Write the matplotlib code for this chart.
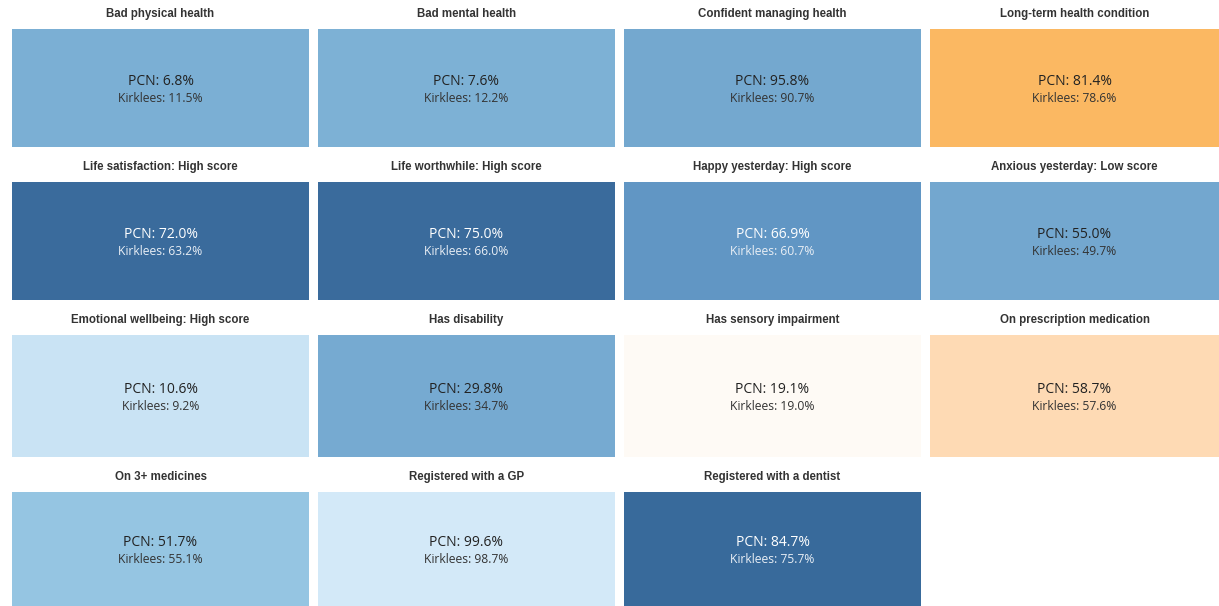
import matplotlib
matplotlib.use("Agg")
import matplotlib.pyplot as plt
from matplotlib import font_manager

titles = ["Bad physical health", "Bad mental health", "Confident managing health", "Long-term health condition",
          "Life satisfaction: High score", "Life worthwhile: High score", "Happy yesterday: High score", "Anxious yesterday: Low score",
          "Emotional wellbeing: High score", "Has disability", "Has sensory impairment", "On prescription medication",
          "On 3+ medicines", "Registered with a GP", "Registered with a dentist"]
pcn = [6.8, 7.6, 95.8, 81.4, 72.0, 75.0, 66.9, 55.0, 10.6, 29.8, 19.1, 58.7, 51.7, 99.6, 84.7]
kirklees = [11.5, 12.2, 90.7, 78.6, 63.2, 66.0, 60.7, 49.7, 9.2, 34.7, 19.0, 57.6, 55.1, 98.7, 75.7]
colors = ["#7BAFD4", "#7DB1D5", "#74A8CF", "#FBB862",
          "#3A6B9C", "#3A6B9C", "#6196C4", "#73A7CF",
          "#C9E3F4", "#76AAD1", "#FEFAF5", "#FEDAB4",
          "#95C5E2", "#D3E9F8", "#386A9B"]
dark_text = [True, True, True, True, False, False, False, True, True, True, True, True, True, True, False]

names = {f.name for f in font_manager.fontManager.ttflist}
title_font = "Liberation Sans Narrow" if "Liberation Sans Narrow" in names else "Liberation Sans"
body_font = "Open Sans"

W, H = 1219, 606
fig = plt.figure(figsize=(W / 100, H / 100), dpi=100)
fig.patch.set_facecolor("white")

col_left = [12, 318, 624, 930]
col_w = [297, 297, 297, 289]
row_top = [29, 182, 335, 492]
row_h = [118, 118, 122, 114]

for i, t in enumerate(titles):
    r, c = divmod(i, 4)
    x0, y0, w, h = col_left[c], row_top[r], col_w[c], row_h[r]
    ax = fig.add_axes([x0 / W, 1 - (y0 + h) / H, w / W, h / H])
    ax.set_facecolor(colors[i])
    ax.set_xticks([]); ax.set_yticks([])
    for s in ax.spines.values():
        s.set_visible(False)
    tc = "#222222" if dark_text[i] else "white"
    tc2 = "#333333" if dark_text[i] else "#E8EEF5"
    ax.text(0.5, 0.555, f"PCN: {pcn[i]:.1f}%", ha="center", va="center", fontsize=10,
            color=tc, family=body_font, transform=ax.transAxes)
    ax.text(0.5, 0.41, f"Kirklees: {kirklees[i]:.1f}%", ha="center", va="center", fontsize=8.7,
            color=tc2, family=body_font, transform=ax.transAxes)
    fig.text((x0 + w / 2) / W, 1 - (y0 - 15) / H, t, ha="center", va="center", fontsize=8.3,
             fontweight="bold", color="#333333", family=title_font)

fig.savefig("out.png", dpi=100, facecolor="white")
